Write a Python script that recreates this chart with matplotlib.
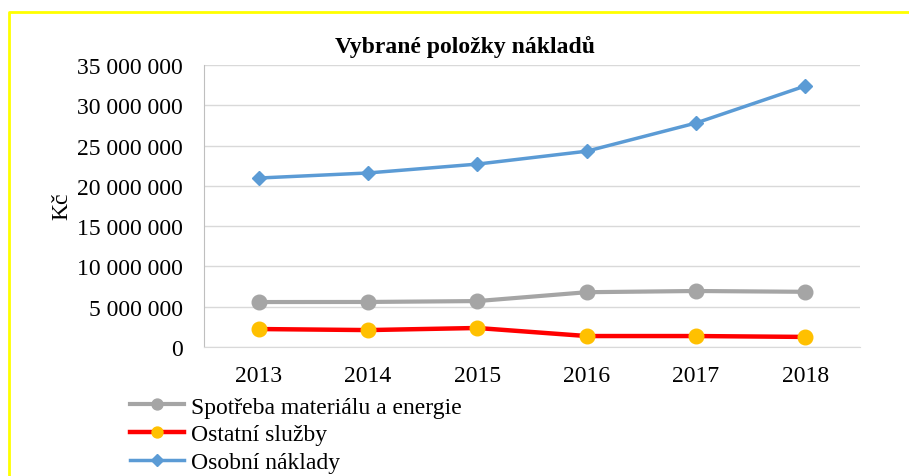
import matplotlib
matplotlib.use("Agg")
import matplotlib.pyplot as plt
from matplotlib.lines import Line2D
from matplotlib.ticker import FuncFormatter, MultipleLocator

years = ["2013", "2014", "2015", "2016", "2017", "2018"]
spotreba = [5580000, 5590000, 5700000, 6800000, 6950000, 6850000]
sluzby = [2230000, 2100000, 2360000, 1360000, 1360000, 1250000]
osobni = [20970000, 21600000, 22700000, 24300000, 27800000, 32400000]

labels = ["Spotřeba materiálu a energie", "Ostatní služby", "Osobní náklady"]
title = "Vybrané položky nákladů"
ylabel = "Kč"

plt.rcParams["font.family"] = ["Liberation Serif", "DejaVu Serif"]
fs = 17

fig = plt.figure(figsize=(9.09, 4.77), dpi=100)
ax = fig.add_axes([204 / 909, 1 - 348 / 477, 656 / 909, 282 / 477])

x = range(len(years))
ax.plot(x, spotreba, color="#a5a5a5", lw=3, marker="o", ms=10.5,
        mfc="#a5a5a5", mec="#a5a5a5", label=labels[0], zorder=3)
ax.plot(x, sluzby, color="#ff0000", lw=3.2, marker="o", ms=10.5,
        mfc="#ffc000", mec="#ffc000", label=labels[1], zorder=3)
ax.plot(x, osobni, color="#5b9bd5", lw=2.5, marker="D", ms=7.5,
        mfc="#5b9bd5", mec="#5b9bd5", label=labels[2], zorder=3)

ax.set_xlim(-0.5, 5.5)
ax.set_ylim(0, 35000000)
ax.yaxis.set_major_locator(MultipleLocator(5000000))
ax.yaxis.set_major_formatter(FuncFormatter(lambda v, p: f"{int(v):,}".replace(",", " ")))
ax.set_xticks(list(x))
ax.set_xticklabels(years)
ax.tick_params(axis="both", length=0, labelsize=fs)
ax.tick_params(axis="y", pad=15)
ax.tick_params(axis="x", pad=13)
ax.grid(axis="y", color="#d9d9d9", lw=1)
ax.set_axisbelow(True)
for s in ["top", "right"]:
    ax.spines[s].set_visible(False)
ax.spines["left"].set_color("#bfbfbf")
ax.spines["bottom"].set_color("#d9d9d9")

fig.text(465 / 909, 1 - 47 / 477, title, ha="center", va="center",
         fontsize=fs, fontweight="bold")
fig.text(62 / 909, 1 - 206 / 477, ylabel, ha="center", va="center",
         rotation=90, fontsize=fs)

fig.legend(loc="upper left", bbox_to_anchor=(130 / 909, 1 - 397 / 477),
           frameon=False, fontsize=fs, handlelength=2.3, handletextpad=0.3,
           labelspacing=0.27, borderpad=0, borderaxespad=0, markerscale=0.75)

# yellow frame around the chart
fig.add_artist(Line2D([9 / 909, 9 / 909, 1], [0, 1 - 13 / 477, 1 - 13 / 477],
                      color="#ffff00", lw=2, transform=fig.transFigure))

fig.savefig("out.png", dpi=100)
